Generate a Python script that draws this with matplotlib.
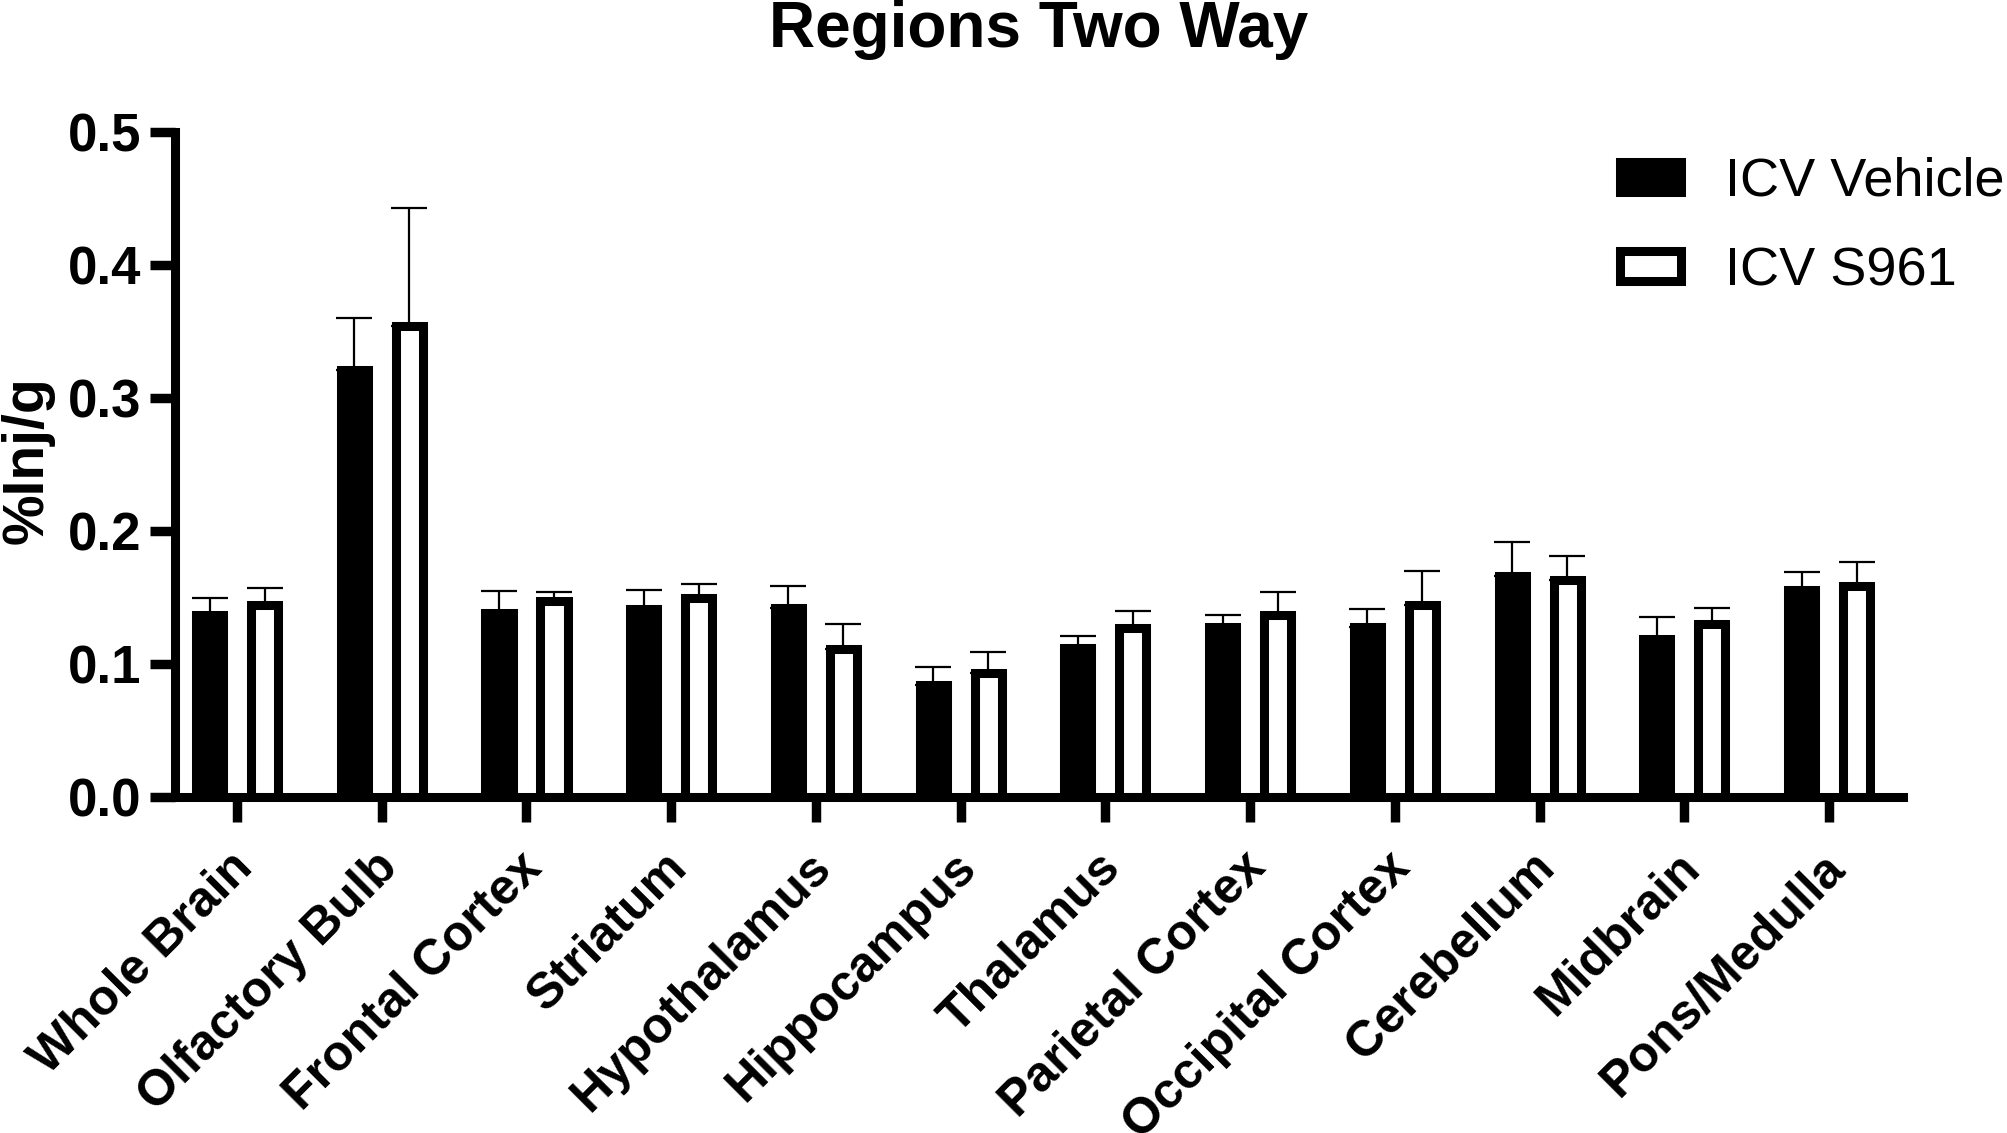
import numpy as np
import matplotlib
matplotlib.use('Agg')
import matplotlib.pyplot as plt
from matplotlib.patches import Patch
from matplotlib.transforms import ScaledTranslation

plt.rcParams['font.family'] = ['Liberation Sans', 'DejaVu Sans']

regions = ['Whole Brain', 'Olfactory Bulb', 'Frontal Cortex', 'Striatum',
		   'Hypothalamus', 'Hippocampus', 'Thalamus', 'Parietal Cortex',
		   'Occipital Cortex', 'Cerebellum', 'Midbrain', 'Pons/Medulla']
vehicle = [0.137, 0.321, 0.138, 0.141, 0.142, 0.084, 0.112, 0.128, 0.128, 0.166, 0.119, 0.156]
vehicle_sem = [0.013, 0.039, 0.017, 0.015, 0.017, 0.014, 0.009, 0.009, 0.013, 0.026, 0.016, 0.013]
s961 = [0.144, 0.354, 0.147, 0.150, 0.111, 0.093, 0.127, 0.137, 0.144, 0.163, 0.130, 0.159]
s961_sem = [0.013, 0.089, 0.007, 0.010, 0.019, 0.016, 0.013, 0.017, 0.026, 0.018, 0.012, 0.018]
yticks = [0.0, 0.1, 0.2, 0.3, 0.4, 0.5]

W, H = 2008, 1133
fig = plt.figure(figsize=(W / 100, H / 100), dpi=100)
ax = fig.add_axes([174.5 / W, 1 - 797 / H, (1903 - 174.5) / W, (797 - 132) / H])

x = np.arange(len(regions))
lw = 6.5
bw = 0.187
off = 0.19

ax.bar(x - off, vehicle, bw, color='black', edgecolor='black', linewidth=lw, zorder=2)
ax.bar(x + off, s961, bw, color='white', edgecolor='black', linewidth=lw, zorder=2)
for xs, vals, sem in [(x - off, vehicle, vehicle_sem), (x + off, s961, s961_sem)]:
	ax.errorbar(xs, vals, yerr=[np.zeros(len(sem)), sem], fmt='none', ecolor='black',
				elinewidth=1.6, capsize=13, capthick=1.6, zorder=3)

ax.set_xlim(-0.432, 11.511)
ax.set_ylim(0, 0.5)
ax.set_yticks(yticks)
ax.set_yticklabels(['{:.1f}'.format(v) for v in yticks], fontsize=38, fontweight='bold')
ax.set_xticks(x)
ax.set_xticklabels(regions, rotation=45, ha='right', va='top', rotation_mode='anchor',
				   fontsize=36, fontweight='bold')
ax.tick_params(axis='both', length=18, width=6.8, direction='out', color='black')
ax.tick_params(axis='y', pad=6)
ax.tick_params(axis='x', pad=16)
# nudge the slanted labels a little to the left
shift = ScaledTranslation(-0.08, 0, fig.dpi_scale_trans)
for lab in ax.get_xticklabels():
	lab.set_transform(lab.get_transform() + shift)

for s in ['top', 'right']:
	ax.spines[s].set_visible(False)
for s in ['left', 'bottom']:
	ax.spines[s].set_linewidth(lw)
	ax.spines[s].set_capstyle('projecting')

fig.text(1039 / W, 1 - 47 / H, 'Regions Two Way', ha='center', va='baseline',
		 fontsize=46, fontweight='bold')
fig.text(28 / W, 1 - 460 / H, '%Inj/g', ha='center', va='center', rotation=90,
		 fontsize=41, fontweight='bold')

handles = [Patch(facecolor='black', edgecolor='black', linewidth=lw),
		   Patch(facecolor='white', edgecolor='black', linewidth=lw)]
fig.legend(handles, ['ICV Vehicle', 'ICV S961'], loc='upper left',
		   bbox_to_anchor=(1620 / W, 1 - 157 / H), frameon=False, fontsize=39,
		   handlelength=1.13, handleheight=0.48, handletextpad=0.8,
		   labelspacing=0.72, borderpad=0, borderaxespad=0)

fig.savefig('out.png', dpi=100)
